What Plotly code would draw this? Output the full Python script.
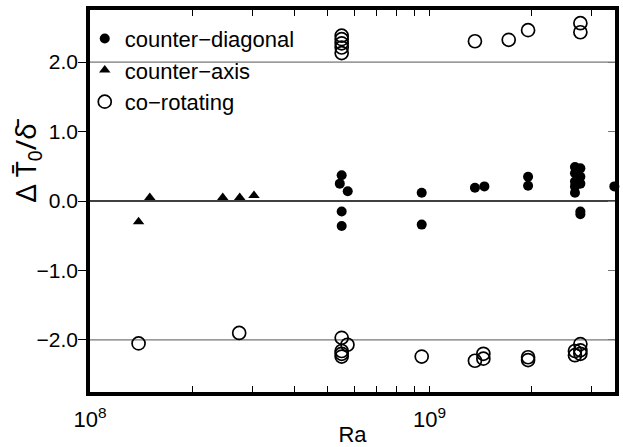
import plotly.graph_objects as go

# ---- data ----
diag_ra = [5.51e8, 5.44e8, 5.74e8, 5.51e8, 5.51e8,
           9.48e8, 9.48e8,
           1.36e9, 1.45e9,
           1.95e9, 1.95e9,
           2.68e9, 2.68e9, 2.68e9, 2.68e9, 2.68e9,
           2.78e9, 2.78e9, 2.78e9, 2.78e9, 2.78e9,
           3.5e9]
diag_dt = [0.37, 0.25, 0.14, -0.15, -0.36,
           0.12, -0.34,
           0.19, 0.21,
           0.35, 0.22,
           0.49, 0.40, 0.28, 0.21, 0.12,
           0.47, 0.35, 0.25, -0.15, -0.19,
           0.21]

axis_ra = [1.39e8, 1.50e8, 2.46e8, 2.76e8, 3.04e8]
axis_dt = [-0.30, 0.05, 0.05, 0.05, 0.08]

corot_ra = [1.39e8, 2.75e8,
            5.51e8, 5.51e8, 5.51e8, 5.51e8, 5.51e8,
            5.51e8, 5.51e8, 5.51e8, 5.51e8, 5.73e8,
            9.48e8,
            1.36e9, 1.36e9,
            1.44e9, 1.44e9,
            1.71e9,
            1.95e9, 1.95e9, 1.95e9,
            2.68e9, 2.68e9,
            2.78e9, 2.78e9, 2.78e9, 2.78e9, 2.78e9]
corot_dt = [-2.05, -1.90,
            2.38, 2.33, 2.27, 2.21, 2.13,
            -1.97, -2.16, -2.20, -2.24, -2.07,
            -2.24,
            2.30, -2.30,
            -2.20, -2.27,
            2.32,
            2.46, -2.25, -2.29,
            -2.16, -2.22,
            2.56, 2.43, -2.06, -2.15, -2.20]

x_major = [1e8, 1e9]
x_major_text = ["10<sup>8</sup>", "10<sup>9</sup>"]
x_minor = [k * 1e8 for k in range(2, 10)] + [k * 1e9 for k in range(2, 4)]
y_ticks = [-2, -1, 0, 1, 2]
y_text = ["\u22122.0", "\u22121.0", "0.0", "1.0", "2.0"]
ref_lines = [2, 0, -2]

FONT = "Liberation Sans, Arial, Helvetica, sans-serif"

fig = go.Figure()
fig.add_trace(go.Scatter(
    x=diag_ra, y=diag_dt, mode="markers", name="counter\u2212diagonal",
    marker=dict(symbol="circle", size=10, color="black"),
    cliponaxis=False, legendgroup="a"))
fig.add_trace(go.Scatter(
    x=axis_ra, y=axis_dt, mode="markers", name="counter\u2212axis",
    marker=dict(symbol="triangle-up", size=10, color="black"),
    cliponaxis=False, legendgroup="b"))
fig.add_trace(go.Scatter(
    x=corot_ra, y=corot_dt, mode="markers", name="co\u2212rotating",
    marker=dict(symbol="circle-open", size=13, color="black", line=dict(width=1.7)),
    cliponaxis=False, legendgroup="c"))
# invisible trace to host right-side tick axis
fig.add_trace(go.Scatter(x=[x_major[0]], y=[0], yaxis="y2", mode="markers",
                         marker=dict(opacity=0), showlegend=False, hoverinfo="skip"))

for v in ref_lines:
    fig.add_shape(type="line", xref="paper", x0=0, x1=1, yref="y", y0=v, y1=v,
                  line=dict(color="black" if v == 0 else "#555555",
                            width=1.5 if v == 0 else 1), layer="below")

fig.update_layout(
    width=623, height=447,
    margin=dict(l=90, r=8, t=10, b=55, autoexpand=False),
    paper_bgcolor="white", plot_bgcolor="white",
    font=dict(family=FONT, size=21, color="black"),
    showlegend=True,
    legend=dict(x=-0.01, y=0.98, xanchor="left", yanchor="top",
                bgcolor="rgba(0,0,0,0)", font=dict(size=22),
                tracegroupgap=0, traceorder="grouped", itemsizing="trace"),
    xaxis=dict(type="log", range=[8, 9.546], automargin=False,
               tickmode="array", tickvals=x_major, ticktext=x_major_text,
               ticks="inside", ticklen=6, tickwidth=1.2, tickcolor="black",
               minor=dict(tickmode="array", tickvals=x_minor, ticks="inside",
                          ticklen=4, tickwidth=1.2, tickcolor="black", showgrid=False),
               showline=True, linewidth=3.5, linecolor="black", mirror="allticks",
               showgrid=False, zeroline=False, ticklabelstandoff=5,
               title=dict(text="Ra", font=dict(size=22), standoff=0),
               tickfont=dict(size=22)),
    yaxis=dict(range=[-2.75, 2.75], tickmode="array", tickvals=y_ticks, ticktext=y_text,
               automargin=False,
               ticks="outside", ticklen=8, tickwidth=1.2, tickcolor="black",
               showline=True, linewidth=3.5, linecolor="black", mirror=True,
               showgrid=False, zeroline=False, tickfont=dict(size=21),
               ticklabelstandoff=-4),
    yaxis2=dict(range=[-2.75, 2.75], overlaying="y", side="right", automargin=False,
                tickmode="array", tickvals=y_ticks, ticks="inside", ticklen=7,
                tickwidth=1.2, tickcolor="#777777", showticklabels=False,
                showline=False, showgrid=False, zeroline=False),
)

fig.add_annotation(
    text="\u0394 T\u0304<sub>0</sub>/\u03b4\u0304", textangle=-90,
    xref="paper", yref="paper", x=-0.12, y=0.607,
    xanchor="center", yanchor="middle", showarrow=False,
    font=dict(size=28, family="Noto Sans, Liberation Sans, sans-serif"))

fig.write_html("out.html")
